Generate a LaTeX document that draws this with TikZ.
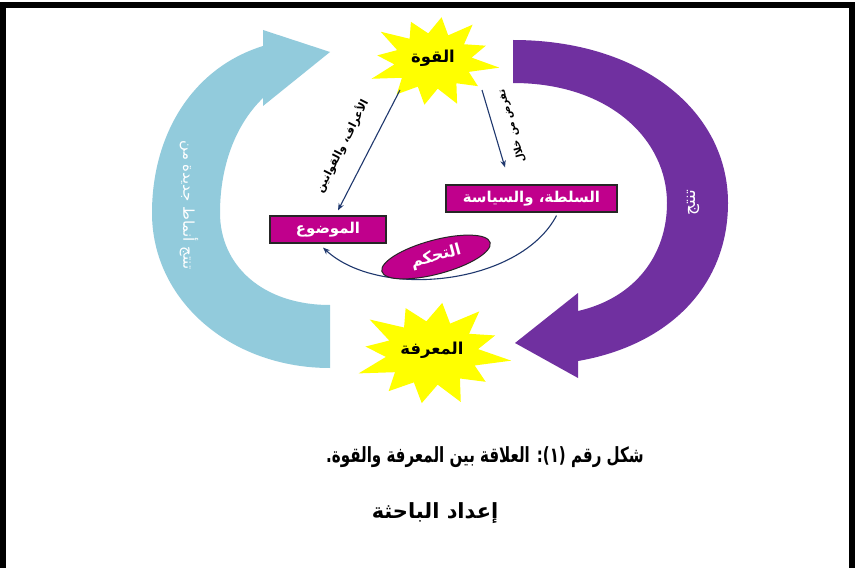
\documentclass[tikz,border=0pt]{standalone}
\usepackage{fontspec}
\usepackage{graphicx}
\usetikzlibrary{arrows.meta,shapes.geometric,calc}
\TeXXeTstate=1
\newfontfamily\arfont[Script=Arabic]{DejaVu Sans}
\definecolor{lightblue}{RGB}{146,203,220}
\definecolor{deeppurple}{RGB}{112,48,160}
\definecolor{boxmagenta}{RGB}{192,0,140}
\definecolor{navyline}{RGB}{31,56,110}
\definecolor{staryellow}{RGB}{255,255,0}
\newcommand\explosionshape[4]{%
  \fill[staryellow] plot[samples at={0,15,...,345}]
   ({#1+#3*(ifthenelse(mod(\x,30)==0,0.92+0.08*cos(5*\x),0.58))*cos(\x+8)},
    {#2+#4*(ifthenelse(mod(\x,30)==0,0.92+0.08*cos(5*\x),0.58))*sin(\x+8)}) -- cycle;}
\tikzset{
  boxnode/.style={draw=black!85, line width=1.2bp, fill=boxmagenta, text=white,
    font=\arfont\bfseries\fontsize{15}{17}\selectfont, inner sep=0pt},
  starlabel/.style={text=black, font=\arfont\bfseries\fontsize{16.5}{18}\selectfont},
  conn/.style={draw=navyline, line width=1.1bp, -{Stealth[length=7bp,width=5.5bp]}},
  linelabel/.style={text=black, font=\arfont\bfseries\fontsize{11}{13}\selectfont},
  arrowtext/.style={text=white, font=\arfont\fontsize{15}{17}\selectfont},
  captiontext/.style={text=black, font=\arfont\bfseries\fontsize{21}{24}\selectfont}
}
\begin{document}
\begin{tikzpicture}[x=1bp,y=-1bp]
\useasboundingbox (0,0) rectangle (858,568);
\fill[white] (0,0) rectangle (858,568);
% frame
\draw[line width=5.5bp, line join=miter] (2.75,568) -- (2.75,5) -- (852,5) -- (852,568);

% big circular arrows
\fill[lightblue] (330,368) .. controls (230,368) and (152,300) .. (152,213)
  .. controls (152,135) and (192,68) .. (263,46) -- (263,30) -- (330,52) -- (263,106) -- (263,98)
  .. controls (238,122) and (220,162) .. (220,213)
  .. controls (220,265) and (262,305) .. (330,305) -- cycle;
\fill[deeppurple] (513,40) .. controls (640,40) and (728,110) .. (728,203)
  .. controls (728,285) and (670,345) .. (578,361) -- (578,378) -- (515,343) -- (578,293) -- (578,311)
  .. controls (635,298) and (667,255) .. (667,203)
  .. controls (667,140) and (610,83) .. (513,83) -- cycle;

\node[arrowtext, rotate=-90] (bluetext) at (189,205) {\beginR تنتج أنماط جديدة من\endR};
\node[arrowtext, font=\arfont\fontsize{17}{19}\selectfont, rotate=90] (purpletext) at (693,203) {\beginR تنتج\endR};

% stars
\explosionshape{433}{61}{67}{48}
\explosionshape{432}{353}{80}{55}
\node[starlabel] (power) at (433,58) {\beginR القوة\endR};
\node[starlabel] (knowledge) at (432,350) {\beginR المعرفة\endR};

% boxes
\node[boxnode, minimum width=171bp, minimum height=27bp] (authority) at (531.5,198.5) {\beginR السلطة، والسياسة\endR};
\node[boxnode, minimum width=116bp, minimum height=27bp] (topic) at (328,229.5) {\beginR الموضوع\endR};

% arrows from the star
\path (power) ++(-33,32) coordinate (pL);
\path (power) ++(49,32) coordinate (pR);
\draw[conn] (pL) -- ($(topic.north)+(10,-5)$);
\draw[conn] (pR) -- ($(authority.north)+(-26.5,-17)$);
\node[linelabel, rotate=63] (customs) at (342,146) {\beginR الأعراف، والقوانين\endR};
\node[linelabel, font=\arfont\bfseries\fontsize{10}{12}\selectfont, rotate=106] (imposes) at (512,126) {\beginR تفرض من خلال\endR};

% control curve
\draw[conn] ($(authority.south)+(25,3)$) .. controls (520,285) and (380,300) .. ($(topic.south)+(-5,4)$);
\node[ellipse, draw=black!85, line width=1bp, fill=boxmagenta, rotate=15,
  minimum width=112bp, minimum height=34bp, inner sep=0pt, text=white,
  font=\arfont\bfseries\fontsize{16}{18}\selectfont] (control) at (436,257) {\beginR التحكم\endR};

% caption
\node[captiontext] (caption) at (485,457) {\scalebox{0.72}[1]{\beginR شكل رقم (١): العلاقة بين المعرفة والقوة.\endR}};
\node[captiontext] (author) at (435,513) {\beginR إعداد الباحثة\endR};
\end{tikzpicture}
\end{document}
